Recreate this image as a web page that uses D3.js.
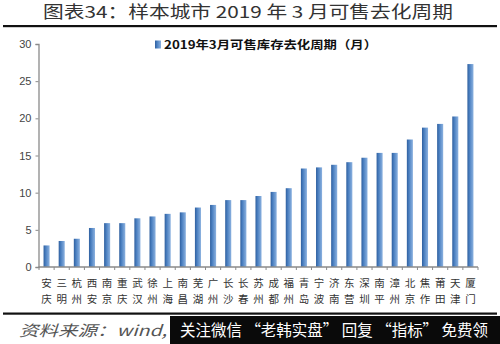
<!DOCTYPE html>
<html>
<head>
<meta charset="utf-8">
<script src="https://cdn.jsdelivr.net/npm/d3@7/dist/d3.min.js"></script>
<style>
  html, body { margin: 0; padding: 0; background: #fff; }
  svg { display: block; }
</style>
</head>
<body>
<svg id="chart" width="500" height="344"></svg>
<script>
// Sample cities, sorted by months of saleable inventory (March 2019)
const cities = ["安庆","三明","杭州","西安","南京","重庆","武汉","徐州","上海","南昌",
                "芜湖","广州","长沙","长春","苏州","成都","福州","青岛","宁波","济南",
                "东营","深圳","南平","漳州","北京","焦作","莆田","天津","厦门"];
const months = [2.9, 3.5, 3.8, 5.25, 5.9, 5.9, 6.55, 6.8, 7.15, 7.35,
                8.0, 8.35, 9.0, 9.0, 9.55, 10.1, 10.6, 13.25, 13.4, 13.75,
                14.1, 14.7, 15.35, 15.35, 17.15, 18.75, 19.25, 20.25, 27.3];
const yTicks = [0, 5, 10, 15, 20, 25, 30];
const titleText = "图表34：样本城市 2019 年 3 月可售去化周期";
const seriesName = "2019年3月可售库存去化周期（月）";
const sourceText = "资料来源：wind,";
const bannerText = "关注微信 “老韩实盘” 回复 “指标” 免费领";

const svg = d3.select("#chart");
const cjk = "'Noto Sans CJK SC', 'Noto Sans', sans-serif";

// Bar fill: darker left edge fading to a lighter right edge
const defs = svg.append("defs");
const grad = defs.append("linearGradient").attr("id", "barFill")
  .attr("x1", "0%").attr("x2", "100%").attr("y1", "0%").attr("y2", "0%");
grad.append("stop").attr("offset", "0%").attr("stop-color", "#2f5f9e");
grad.append("stop").attr("offset", "35%").attr("stop-color", "#4a7fc0");
grad.append("stop").attr("offset", "100%").attr("stop-color", "#8cb2e0");

// Title and rule
svg.append("text")
  .attr("x", 248).attr("y", 18)
  .attr("text-anchor", "middle")
  .attr("font-family", cjk).attr("font-size", 16.5)
  .attr("fill", "#333")
  .attr("textLength", 410).attr("lengthAdjust", "spacingAndGlyphs")
  .text(titleText);
svg.append("rect").attr("x", 3).attr("y", 25).attr("width", 494).attr("height", 2.2).attr("fill", "#111");

// Scales
const x = d3.scaleBand().domain(cities).range([39, 478]).paddingInner(0.6).paddingOuter(0.3);
const y = d3.scaleLinear().domain([0, 30]).range([267, 44]);

// Y axis
const yAxis = svg.append("g").attr("transform", "translate(38.5,0)")
  .call(d3.axisLeft(y).tickValues(yTicks).tickSize(3).tickPadding(4).tickFormat(d3.format("d")));
yAxis.select(".domain").attr("stroke", "#8a8a8a").attr("stroke-width", 1.3);
yAxis.selectAll(".tick line").attr("stroke", "#8a8a8a");
yAxis.selectAll(".tick text")
  .attr("font-family", "'Liberation Sans', Arial, sans-serif")
  .attr("font-size", 11).attr("fill", "#444");

// Bars
svg.append("g").selectAll("rect")
  .data(cities.map((c, i) => ({ city: c, v: months[i] })))
  .join("rect")
  .attr("x", d => x(d.city))
  .attr("width", x.bandwidth())
  .attr("y", d => y(d.v))
  .attr("height", d => y(0) - y(d.v))
  .attr("fill", "url(#barFill)");

// X axis line with ticks at category boundaries
const step = x.step();
const x0 = x.range()[0];
const xAxis = svg.append("g");
xAxis.append("line")
  .attr("x1", 38.5).attr("x2", x.range()[1]).attr("y1", y(0)).attr("y2", y(0))
  .attr("stroke", "#8a8a8a").attr("stroke-width", 1.3);
xAxis.selectAll("line.tk")
  .data(d3.range(cities.length + 1))
  .join("line").attr("class", "tk")
  .attr("x1", i => x0 + i * step).attr("x2", i => x0 + i * step)
  .attr("y1", y(0)).attr("y2", y(0) + 3)
  .attr("stroke", "#8a8a8a");

// Category labels, one character per row
cities.forEach(c => {
  const cx = x(c) + x.bandwidth() / 2;
  c.split("").forEach((ch, k) => {
    svg.append("text")
      .attr("x", cx).attr("y", 287 + k * 15.5)
      .attr("text-anchor", "middle")
      .attr("font-family", cjk).attr("font-size", 10.5)
      .attr("fill", "#333")
      .text(ch);
  });
});

// Legend
const lg = svg.append("g");
lg.append("rect").attr("x", 155).attr("y", 40.5).attr("width", 6).attr("height", 8)
  .attr("fill", "url(#barFill)");
lg.append("text")
  .attr("x", 164).attr("y", 49)
  .attr("font-family", cjk).attr("font-size", 11.5).attr("font-weight", "bold")
  .attr("fill", "#111")
  .attr("textLength", 213).attr("lengthAdjust", "spacingAndGlyphs")
  .text(seriesName);

// Bottom rule and footer
svg.append("rect").attr("x", 3).attr("y", 312.5).attr("width", 494).attr("height", 2.2).attr("fill", "#111");
svg.append("text")
  .attr("x", 19).attr("y", 336)
  .attr("font-family", cjk).attr("font-size", 15).attr("font-style", "italic")
  .attr("fill", "#555")
  .attr("textLength", 148).attr("lengthAdjust", "spacingAndGlyphs")
  .text(sourceText);
svg.append("rect").attr("x", 170).attr("y", 316).attr("width", 330).attr("height", 28).attr("fill", "#0a0a0a");
svg.append("text")
  .attr("x", 180).attr("y", 336)
  .attr("font-family", cjk).attr("font-size", 15.5)
  .attr("fill", "#fff")
  .attr("textLength", 308).attr("lengthAdjust", "spacingAndGlyphs")
  .text(bannerText);
</script>
</body>
</html>
